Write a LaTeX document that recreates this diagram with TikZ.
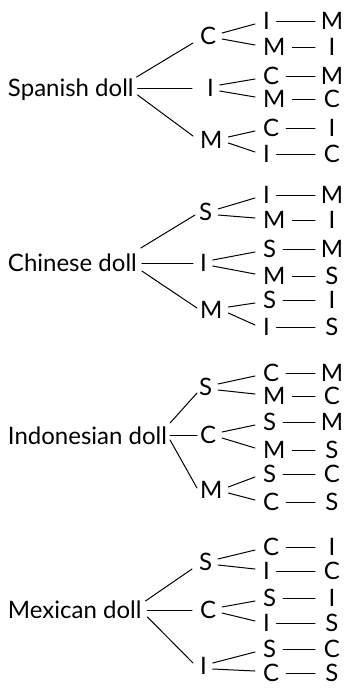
\documentclass[tikz,border=0pt]{standalone}
\usepackage{fontspec}
\setmainfont{Lato}
\usetikzlibrary{calc}
\tikzset{
  every node/.style={font=\fontsize{24}{26}\selectfont, inner sep=0pt, outer sep=0pt},
  rootnode/.style={anchor=base west},
  lone/.style={anchor=west},
  ltwo/.style={anchor=west},
  lthree/.style={minimum width=34pt},
  edge/.style={line width=1pt, line cap=round},
  tip/.style={edge, shorten <=7pt}
}
\begin{document}
\begin{tikzpicture}[x=1pt,y=-1pt]
\useasboundingbox (0,0) rectangle (348,688);

% ---------------- Tree 1 : Spanish doll ----------------
\node[rootnode] (r1) at (8,96) {Spanish doll};
\node[lone] (r1a) at (200,36) {C};
\node[lone] (r1b) at (207,88) {I};
\node[lone] (r1c) at (200,140) {M};
\draw[edge] ($(r1.base east)+(3,-19)$) -- ($(r1a.west)+(-7,7)$);
\draw[edge] ($(r1.base east)+(4,-8)$) -- ($(r1b.west)+(-15,0)$);
\draw[edge] ($(r1.base east)+(4,-1)$) -- ($(r1c.west)+(-7,-4)$);
\foreach \p/\n/\y/\t/\u in {r1a/1/21/I/M, r1a/2/47/M/I, r1b/3/76/C/M, r1b/4/99/M/C, r1c/5/128/C/I, r1c/6/154/I/C}{
  \node[ltwo] (r1s\n) at (263,\y) {\t};
  \node[lthree] (r1t\n) at (332,\y) {\u};
  \draw[tip] (r1s\n.east) -- (r1t\n.west);
}
\foreach \p/\a/\b in {r1a/1/2, r1b/3/4, r1c/5/6}{
  \draw[edge] ($(\p.east)+(6,-3)$) -- ($(r1s\a.west)+(-8,3)$);
  \draw[edge] ($(\p.east)+(6,3)$) -- ($(r1s\b.west)+(-8,-2)$);
}

% ---------------- Tree 2 : Chinese doll ----------------
\node[rootnode] (r2) at (8,271) {Chinese doll};
\node[lone] (r2a) at (199,212) {S};
\node[lone] (r2b) at (200,263) {I};
\node[lone] (r2c) at (200,310) {M};
\draw[edge] ($(r2.base east)+(4,-23)$) -- ($(r2a.west)+(-4,3)$);
\draw[edge] ($(r2.base east)+(5,-8)$) -- ($(r2b.west)+(-7,0)$);
\draw[edge] ($(r2.base east)+(5,0)$) -- ($(r2c.west)+(-3,-2)$);
\foreach \p/\n/\y/\t/\u in {r2a/1/195/I/M, r2a/2/220/M/I, r2b/3/249/S/M, r2b/4/276/M/S, r2c/5/300/S/I, r2c/6/327/I/S}{
  \node[ltwo] (r2s\n) at (263,\y) {\t};
  \node[lthree] (r2t\n) at (332,\y) {\u};
  \draw[tip] (r2s\n.east) -- (r2t\n.west);
}
\foreach \p/\a/\b in {r2a/1/2, r2b/3/4, r2c/5/6}{
  \draw[edge] ($(\p.east)+(6,-3)$) -- ($(r2s\a.west)+(-8,3)$);
  \draw[edge] ($(\p.east)+(6,3)$) -- ($(r2s\b.west)+(-8,-2)$);
}

% ---------------- Tree 3 : Indonesian doll ----------------
\node[rootnode] (r3) at (8,444) {Indonesian doll};
\node[lone] (r3a) at (199,387) {S};
\node[lone] (r3b) at (200,435) {C};
\node[lone] (r3c) at (200,490) {M};
\draw[edge] ($(r3.base east)+(3,-21)$) -- ($(r3a.west)+(-2,6)$);
\draw[edge] ($(r3.base east)+(3,-9)$) -- ($(r3b.west)+(-3,0)$);
\draw[edge] ($(r3.base east)+(3,-4)$) -- ($(r3c.west)+(-3,-2)$);
\foreach \p/\n/\y/\t/\u in {r3a/1/373/C/M, r3a/2/396/M/C, r3b/3/422/S/M, r3b/4/450/M/S, r3c/5/474/S/C, r3c/6/502/C/S}{
  \node[ltwo] (r3s\n) at (263,\y) {\t};
  \node[lthree] (r3t\n) at (332,\y) {\u};
  \draw[tip] (r3s\n.east) -- (r3t\n.west);
}
\foreach \p/\a/\b in {r3a/1/2, r3b/3/4, r3c/5/6}{
  \draw[edge] ($(\p.east)+(6,-3)$) -- ($(r3s\a.west)+(-8,3)$);
  \draw[edge] ($(\p.east)+(6,3)$) -- ($(r3s\b.west)+(-8,-2)$);
}

% ---------------- Tree 4 : Mexican doll ----------------
\node[rootnode] (r4) at (8,618) {Mexican doll};
\node[lone] (r4a) at (199,562) {S};
\node[lone] (r4b) at (200,610) {C};
\node[lone] (r4c) at (200,666) {I};
\draw[edge] ($(r4.base east)+(4,-17)$) -- ($(r4a.west)+(-7,7)$);
\draw[edge] ($(r4.base east)+(6,-8)$) -- ($(r4b.west)+(-8,0)$);
\draw[edge] ($(r4.base east)+(6,-1)$) -- ($(r4c.west)+(-7,-3)$);
\foreach \p/\n/\y/\t/\u in {r4a/1/547/C/I, r4a/2/571/I/C, r4b/3/598/S/I, r4b/4/623/I/S, r4c/5/649/S/C, r4c/6/673/C/S}{
  \node[ltwo] (r4s\n) at (263,\y) {\t};
  \node[lthree] (r4t\n) at (332,\y) {\u};
  \draw[tip] (r4s\n.east) -- (r4t\n.west);
}
\foreach \p/\a/\b in {r4a/1/2, r4b/3/4, r4c/5/6}{
  \draw[edge] ($(\p.east)+(6,-3)$) -- ($(r4s\a.west)+(-8,3)$);
  \draw[edge] ($(\p.east)+(6,3)$) -- ($(r4s\b.west)+(-8,-2)$);
}
\end{tikzpicture}
\end{document}
